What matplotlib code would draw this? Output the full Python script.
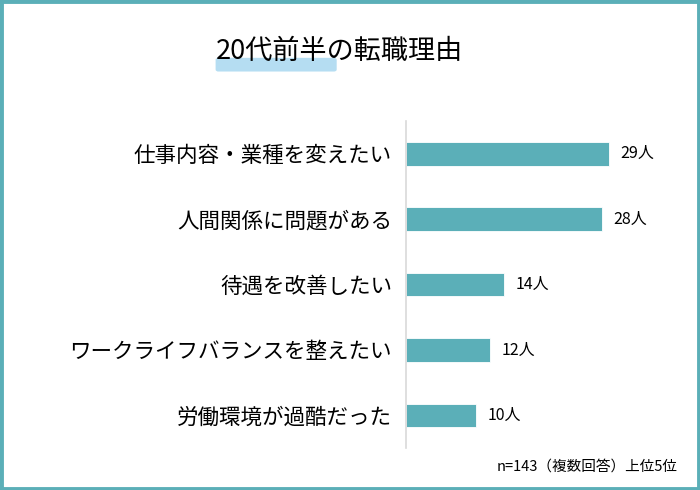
import matplotlib.pyplot as plt
from matplotlib.patches import Rectangle, FancyBboxPatch

plt.rcParams['font.family'] = ['Noto Sans CJK JP', 'DejaVu Sans']

# --- Data ---
reasons = ["仕事内容・業種を変えたい", "人間関係に問題がある", "待遇を改善したい",
           "ワークライフバランスを整えたい", "労働環境が過酷だった"]
counts = [29, 28, 14, 12, 10]
value_labels = [f"{c}人" for c in counts]
title = "20代前半の転職理由"
note = "n=143（複数回答）上位5位"

teal = "#5BAFB8"

fig = plt.figure(figsize=(7, 4.9), dpi=100)

# frame around the whole picture
fig.patches.append(Rectangle((0.002, 0.003), 0.996, 0.994, transform=fig.transFigure,
                             fill=False, edgecolor=teal, linewidth=3.5, zorder=10))

# brush highlight under the title
fig.patches.append(FancyBboxPatch((0.312, 0.858), 0.165, 0.02,
                                  boxstyle="round,pad=0.004", transform=fig.transFigure,
                                  facecolor="#A8D8F0", edgecolor="none", alpha=0.85, zorder=1))
fig.text(0.485, 0.895, title, ha="center", va="center", fontsize=19.5, zorder=5)

ax = fig.add_axes([0.58, 0.0857, 0.40, 0.667])
ypos = list(range(len(reasons)))
bars = ax.barh(ypos, counts, height=0.36, color=teal, edgecolor="white", linewidth=0.6)
ax.set_ylim(len(reasons) - 0.5, -0.5)
ax.set_xlim(0, 40)
ax.set_yticks(ypos)
ax.set_yticklabels(reasons, fontsize=15.5)
ax.tick_params(axis="y", length=0, pad=10)
ax.set_xticks([])
for s in ["top", "right", "bottom"]:
    ax.spines[s].set_visible(False)
ax.spines["left"].set_color("#D9D9D9")
ax.spines["left"].set_linewidth(1.2)

for y, c, lab in zip(ypos, counts, value_labels):
    ax.text(c + 1.6, y, lab, va="center", ha="left", fontsize=11.5)

fig.text(0.968, 0.048, note, ha="right", va="center", fontsize=10.5)

fig.savefig("out.png", dpi=100)
